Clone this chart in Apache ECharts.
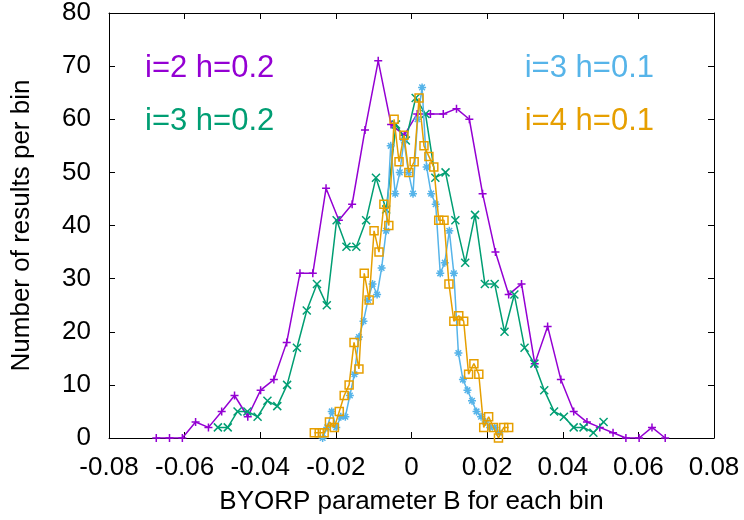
<!DOCTYPE html>
<html>
<head>
<meta charset="utf-8">
<script src="https://cdn.jsdelivr.net/npm/echarts@6/dist/echarts.min.js"></script>
<style>
html,body{margin:0;padding:0;background:#fff;}
#chart{width:744px;height:520px;}
</style>
</head>
<body>
<div id="chart"></div>
<script>
// Series names
const seriesNames = ['i=2 h=0.2', 'i=3 h=0.2', 'i=3 h=0.1', 'i=4 h=0.1'];

// i=2 h=0.2 (bin centres, counts)
const binsA = [-0.0675,-0.0640,-0.0606,-0.0571,-0.0537,-0.0502,-0.0468,-0.0433,-0.0399,-0.0364,
  -0.0330,-0.0295,-0.0261,-0.0226,-0.0192,-0.0157,-0.0123,-0.0088,-0.0054,-0.0019,
  0.0015,0.0050,0.0084,0.0119,0.0153,0.0188,0.0222,0.0257,0.0291,0.0326,
  0.0360,0.0395,0.0429,0.0464,0.0498,0.0533,0.0567,0.0602,0.0636,0.0671];
const countsA = [0,0,0,3,2,5,8,4,9,11,18,31,31,47,41,44,58,71,59,57,61,61,61,62,60,46,35,27,29,14,21,11,5,3,2,1,0,0,2,0];

// i=3 h=0.2
const binsB = [-0.0512,-0.0486,-0.0460,-0.0434,-0.0407,-0.0381,-0.0355,-0.0329,-0.0303,-0.0277,
  -0.0250,-0.0224,-0.0198,-0.0172,-0.0146,-0.0120,-0.0094,-0.0067,-0.0041,-0.0015,
  0.0011,0.0037,0.0063,0.0090,0.0116,0.0142,0.0168,0.0194,0.0220,0.0246,
  0.0272,0.0299,0.0325,0.0351,0.0377,0.0403,0.0429,0.0455,0.0481,0.0508];
const countsB = [2,2,5,5,4,7,6,10,17,24,29,25,41,36,36,41,49,43,59,56,64,61,49,50,41,33,42,29,29,20,27,17,14,9,5,4,2,2,1,3];

// i=3 h=0.1
const binsC = [-0.0235,-0.0223,-0.0211,-0.0199,-0.0187,-0.0175,-0.0163,-0.0151,-0.0139,-0.0127,
  -0.0115,-0.0103,-0.0091,-0.0079,-0.0067,-0.0055,-0.0043,-0.0031,-0.0020,-0.0008,
  0.0004,0.0016,0.0028,0.0040,0.0052,0.0064,0.0076,0.0088,0.0100,0.0112,
  0.0124,0.0136,0.0148,0.0160,0.0172,0.0184,0.0196,0.0208,0.0220,0.0232];
const countsC = [0,2,5,2,4,4,8,12,19,22,26,29,27,32,39,55,46,50,56,50,46,60,66,51,46,44,31,33,39,31,16,11,9,7,5,4,3,2,2,1];

// i=4 h=0.1
const binsD = [-0.0257,-0.0244,-0.0231,-0.0217,-0.0204,-0.0191,-0.0178,-0.0165,-0.0152,-0.0139,
  -0.0125,-0.0112,-0.0099,-0.0086,-0.0073,-0.0060,-0.0046,-0.0033,-0.0020,-0.0007,
  0.0007,0.0020,0.0033,0.0046,0.0059,0.0072,0.0086,0.0099,0.0112,0.0125,
  0.0138,0.0151,0.0165,0.0178,0.0191,0.0204,0.0217,0.0230,0.0244,0.0257];
const countsD = [1,1,1,3,2,5,8,10,18,13,31,26,39,35,44,40,60,52,57,50,52,64,55,53,51,41,41,29,22,23,22,12,14,12,2,4,2,0,2,2];

const colors = ['#9400D3', '#009E73', '#56B4E9', '#E69F00'];
const symbols = [
  'path://M0,5L10,5M5,0L5,10',
  'path://M0,0L10,10M0,10L10,0',
  'path://M0,5L10,5M5,0L5,10M1.5,1.5L8.5,8.5M1.5,8.5L8.5,1.5',
  'path://M0,0L10,0L10,10L0,10Z'
];
const FONT = '"Liberation Sans", Arial, sans-serif';

function pairs(xs, ys) { return xs.map((x, i) => [x, ys[i]]); }
const allData = [pairs(binsA, countsA), pairs(binsB, countsB), pairs(binsC, countsC), pairs(binsD, countsD)];

const chart = echarts.init(document.getElementById('chart'), null, {renderer: 'canvas'});

const xCommon = {
  type: 'value', min: -0.08, max: 0.08, interval: 0.02,
  splitLine: {show: false},
  axisLine: {show: true, onZero: false, lineStyle: {color: '#000', width: 1}},
  axisTick: {show: true, inside: true, length: 6, lineStyle: {color: '#000'}}
};
const yCommon = {
  type: 'value', min: 0, max: 80, interval: 10,
  splitLine: {show: false},
  axisLine: {show: true, onZero: false, lineStyle: {color: '#000', width: 1}},
  axisTick: {show: true, inside: true, length: 6, lineStyle: {color: '#000'}}
};

const option = {
  animation: false,
  backgroundColor: '#fff',
  grid: {left: 109, right: 30, top: 13, bottom: 82, containLabel: false},
  xAxis: [
    Object.assign({}, xCommon, {
      position: 'bottom',
      name: 'BYORP parameter B for each bin', nameLocation: 'middle', nameGap: 51,
      nameTextStyle: {fontFamily: FONT, fontSize: 26, color: '#000'},
      axisLabel: {show: true, margin: 17, fontFamily: FONT, fontSize: 26, color: '#000'}
    }),
    Object.assign({}, xCommon, {position: 'top', axisLabel: {show: false}})
  ],
  yAxis: [
    Object.assign({}, yCommon, {
      position: 'left',
      name: 'Number of results per bin', nameLocation: 'middle', nameGap: 74, nameRotate: 90,
      nameTextStyle: {fontFamily: FONT, fontSize: 26, color: '#000'},
      axisLabel: {show: true, margin: 18, fontFamily: FONT, fontSize: 26, color: '#000'}
    }),
    Object.assign({}, yCommon, {position: 'right', axisLabel: {show: false}})
  ],
  series: allData.map((d, i) => ({
    name: seriesNames[i],
    type: 'line',
    data: d,
    xAxisIndex: 0, yAxisIndex: 0,
    symbol: symbols[i],
    symbolSize: 8,
    showAllSymbol: true,
    lineStyle: {color: colors[i], width: 1.5},
    itemStyle: {color: 'rgba(0,0,0,0)', borderColor: colors[i], borderWidth: 1.5},
    emphasis: {disabled: true},
    z: 2 + i
  })),
  graphic: [
    {type: 'text', left: 145, top: 53, style: {text: seriesNames[0], font: '31px ' + FONT, fill: colors[0]}},
    {type: 'text', left: 145, top: 106, style: {text: seriesNames[1], font: '31px ' + FONT, fill: colors[1]}},
    {type: 'text', right: 90, top: 53, style: {text: seriesNames[2], font: '31px ' + FONT, fill: colors[2]}},
    {type: 'text', right: 90, top: 106, style: {text: seriesNames[3], font: '31px ' + FONT, fill: colors[3]}}
  ]
};
chart.setOption(option);
</script>
</body>
</html>
